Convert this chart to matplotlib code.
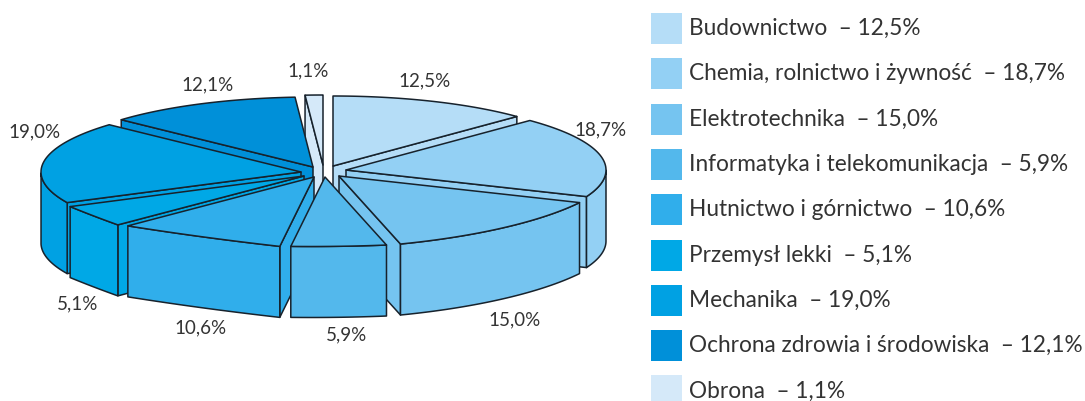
import numpy as np
import matplotlib
matplotlib.use('Agg')
import matplotlib.pyplot as plt
from matplotlib.patches import Polygon, Rectangle

categories = ['Budownictwo', 'Chemia, rolnictwo i żywność', 'Elektrotechnika',
              'Informatyka i telekomunikacja', 'Hutnictwo i górnictwo', 'Przemysł lekki',
              'Mechanika', 'Ochrona zdrowia i środowiska', 'Obrona']
values = [12.5, 18.7, 15.0, 5.9, 10.6, 5.1, 19.0, 12.1, 1.1]
colors = ['#B5DDF7', '#93D0F4', '#75C4F0', '#53B8EC', '#30AEEB',
          '#00A8E6', '#00A1E3', '#0090D9', '#D5E9F9']

# exploded apex of every slice, in pixels
apex_x = [333, 346, 339, 325, 314, 304, 301, 313, 323]
apex_y = [166, 170, 176, 177, 177, 176, 172, 167, 165]
# the rim is drawn flatter on some slices (1 = true ellipse, 0 = straight)
rim_curve = [1, 1, 0.75, 0.5, 0.2, 0.2, 1, 1, 1]
# where the percentage labels sit
label_x = [425, 601, 515, 347, 200, 78, 35, 208, 308]
label_y = [81, 130, 320, 335, 328, 304, 132, 85, 71]

RX, RY = 260, 70
DEPTH = 71
EDGE = '#17222c'

plt.rcParams['font.family'] = ['Lato', 'DejaVu Sans']

fig = plt.figure(figsize=(10.85, 4.01), dpi=100)
ax = fig.add_axes([0, 0, 1, 1])
ax.set_xlim(0, 1085)
ax.set_ylim(401, 0)
ax.axis('off')


def arc(cx, cy, a0, a1, curve=1):
    # angles in degrees, clockwise from 12 o'clock
    t = np.radians(np.linspace(a0, a1, 80))
    pts = np.column_stack([cx + RX * np.sin(t), cy - RY * np.cos(t)])
    chord = np.linspace(pts[0], pts[-1], 80)
    return chord + (pts - chord) * curve


def wall(pts, color, z):
    low = pts[::-1] + [0, DEPTH]
    ax.add_patch(Polygon(np.vstack([pts, low]), closed=True, fc=color, ec=EDGE,
                         lw=1.1, joinstyle='round', zorder=z))


ends = np.cumsum(values) / sum(values) * 360
starts = np.concatenate([[0], ends[:-1]])
mids = (starts + ends) / 2
order = sorted(range(len(values)),
               key=lambda i: apex_y[i] - RY * np.cos(np.radians(mids[i])))

z = 1
for i in order:
    a = np.array([apex_x[i], apex_y[i]], dtype=float)
    outer = arc(a[0], a[1], starts[i], ends[i], rim_curve[i])

    # only the walls facing the viewer get drawn
    if np.sin(np.radians(starts[i])) < -1e-6:
        wall(np.array([a, outer[0]]), colors[i], z)
        z += 1
    if np.sin(np.radians(ends[i])) > 1e-6:
        wall(np.array([a, outer[-1]]), colors[i], z)
        z += 1

    # outer wall, only the front half of the rim shows
    angles = np.linspace(starts[i], ends[i], 80)
    front = outer[(angles >= 90) & (angles <= 270)]
    if len(front) > 1:
        wall(front, colors[i], z)
        z += 1

    ax.add_patch(Polygon(np.vstack([a, outer]), closed=True, fc=colors[i], ec=EDGE,
                         lw=1.1, joinstyle='round', zorder=z))
    z += 1


def pct(v):
    return f'{v:.1f}%'.replace('.', ',')


for v, x, y in zip(values, label_x, label_y):
    ax.text(x, y, pct(v), ha='center', va='center', fontsize=13.5, color='#333333', zorder=500)

for i, (name, v) in enumerate(zip(categories, values)):
    top = 13 + i * 45.3
    ax.add_patch(Rectangle((651, top), 31, 31, fc=colors[i], ec='none'))
    ax.text(689, top + 15.5, f'{name}  – {pct(v)}', ha='left', va='center',
            fontsize=16.3, color='#333333', clip_on=True)

fig.savefig('out.png', dpi=100)
